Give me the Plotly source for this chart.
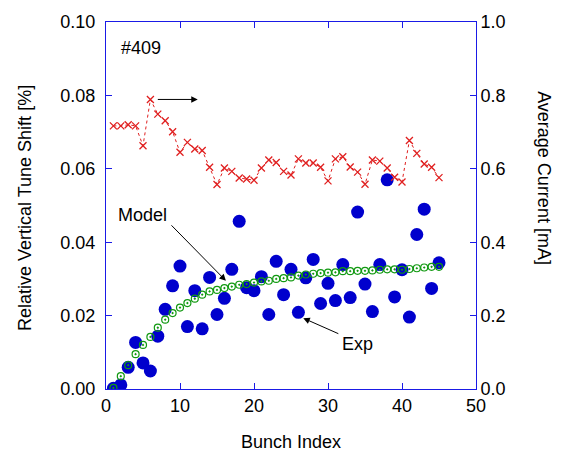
import plotly.graph_objects as go

bunch = list(range(1, 46))

exp_shift = [0.0002, 0.0011, 0.0059, 0.0127, 0.0071, 0.0049, 0.0144, 0.0217, 0.0281, 0.0335,
             0.0170, 0.0268, 0.0164, 0.0304, 0.0203, 0.0247, 0.0326, 0.0457, 0.0276, 0.0268,
             0.0306, 0.0203, 0.0348, 0.0257, 0.0326, 0.0209, 0.0303, 0.0353, 0.0233, 0.0288,
             0.0241, 0.0339, 0.0249, 0.0482, 0.0286, 0.0211, 0.0339, 0.0570, 0.0251, 0.0325,
             0.0196, 0.0421, 0.0490, 0.0274, 0.0344]

model_shift = [0.0003, 0.0035, 0.0065, 0.0095, 0.0120, 0.0142, 0.0167, 0.0189, 0.0207, 0.0222,
               0.0234, 0.0246, 0.0257, 0.0266, 0.0270, 0.0275, 0.0279, 0.0284, 0.0286, 0.0290,
               0.0293, 0.0295, 0.0300, 0.0302, 0.0304, 0.0309, 0.0312, 0.0314, 0.0316, 0.0317,
               0.0318, 0.0321, 0.0321, 0.0322, 0.0322, 0.0323, 0.0325, 0.0326, 0.0326, 0.0325,
               0.0327, 0.0329, 0.0331, 0.0333, 0.0333]

current = [0.717, 0.717, 0.720, 0.717, 0.663, 0.789, 0.749, 0.731, 0.701, 0.645,
           0.672, 0.654, 0.650, 0.604, 0.557, 0.602, 0.593, 0.575, 0.572, 0.569,
           0.602, 0.624, 0.617, 0.593, 0.583, 0.627, 0.616, 0.616, 0.604, 0.567,
           0.627, 0.633, 0.605, 0.591, 0.558, 0.624, 0.621, 0.602, 0.577, 0.564,
           0.677, 0.642, 0.613, 0.604, 0.576]

x_ticks = [0, 10, 20, 30, 40, 50]
y_ticks = [0.00, 0.02, 0.04, 0.06, 0.08, 0.10]
y2_ticks = [0.0, 0.2, 0.4, 0.6, 0.8, 1.0]

AX = "#1a1ae6"
FONT = "Liberation Sans, Arial, sans-serif"
FS = 18

fig = go.Figure()

fig.add_trace(go.Scatter(
    x=bunch, y=current, yaxis="y2", mode="lines+markers",
    line=dict(color="#e02020", width=1, dash="dot"),
    marker=dict(symbol="x-thin-open", size=7, color="#e02020",
                line=dict(width=1.3, color="#e02020")),
    showlegend=False))

fig.add_trace(go.Scatter(
    x=bunch, y=exp_shift, mode="markers",
    marker=dict(symbol="circle", size=13, color="#0000cd"),
    showlegend=False))

fig.add_trace(go.Scatter(
    x=bunch, y=model_shift, mode="markers",
    marker=dict(symbol="circle-open-dot", size=7, color="#119911",
                line=dict(width=1.2, color="#119911")),
    showlegend=False))

axis_common = dict(showline=True, linecolor=AX, linewidth=1, ticks="inside",
                   tickcolor=AX, ticklen=6, tickwidth=1, showgrid=False,
                   zeroline=False, tickfont=dict(size=FS, color="black", family=FONT))

fig.update_layout(
    width=562, height=455,
    margin=dict(l=106, r=86, t=20, b=66),
    paper_bgcolor="white", plot_bgcolor="white",
    font=dict(family=FONT, size=FS, color="black"),
    xaxis=dict(range=[0, 50], tickvals=x_ticks, mirror="ticks", **axis_common),
    yaxis=dict(range=[0, 0.10], tickvals=y_ticks, tickformat=".2f",
               ticklabelstandoff=6, **axis_common),
    yaxis2=dict(range=[0, 1.0], tickvals=y2_ticks, tickformat=".1f",
                overlaying="y", side="right", **axis_common),
    annotations=[
        dict(text="#409", x=(119 - 106) / 370, y=(389 - 46.5) / 369, xref="paper", yref="paper",
             xanchor="left", yanchor="middle", showarrow=False, font=dict(size=FS)),
        dict(text="Model", x=(142.5 - 106) / 370, y=(389 - 214.5) / 369, xref="paper", yref="paper",
             xanchor="center", yanchor="middle", showarrow=False, font=dict(size=FS)),
        dict(text="Exp", x=(357 - 106) / 370, y=(389 - 343.5) / 369, xref="paper", yref="paper",
             xanchor="center", yanchor="middle", showarrow=False, font=dict(size=FS)),
        dict(text="", x=16.2, y=0.0295, ax=8.65, ay=0.045, xref="x", yref="y",
             axref="x", ayref="y", showarrow=True, arrowhead=2, arrowsize=1.3,
             arrowwidth=1, arrowcolor="black"),
        dict(text="", x=26.66, y=0.0193, ax=31.6, ay=0.0149, xref="x", yref="y",
             axref="x", ayref="y", showarrow=True, arrowhead=2, arrowsize=1.3,
             arrowwidth=1, arrowcolor="black"),
        dict(text="", x=12.4, y=0.0789, ax=6.8, ay=0.0789, xref="x", yref="y",
             axref="x", ayref="y", showarrow=True, arrowhead=2, arrowsize=1.3,
             arrowwidth=1, arrowcolor="black"),
        dict(text="Bunch Index", x=0.5, y=(389 - 442) / 369, xref="paper", yref="paper",
             xanchor="center", yanchor="middle", showarrow=False, font=dict(size=FS)),
        dict(text="Relative Vertical Tune Shift [%]", x=(25 - 106) / 370, y=(389 - 207) / 369,
             xref="paper", yref="paper", xanchor="center", yanchor="middle",
             textangle=-90, showarrow=False, font=dict(size=FS)),
        dict(text="Average Current [mA]", x=(544 - 106) / 370, y=(389 - 177) / 369,
             xref="paper", yref="paper", xanchor="center", yanchor="middle",
             textangle=90, showarrow=False, font=dict(size=FS)),
    ],
)

fig.write_html("out.html")
